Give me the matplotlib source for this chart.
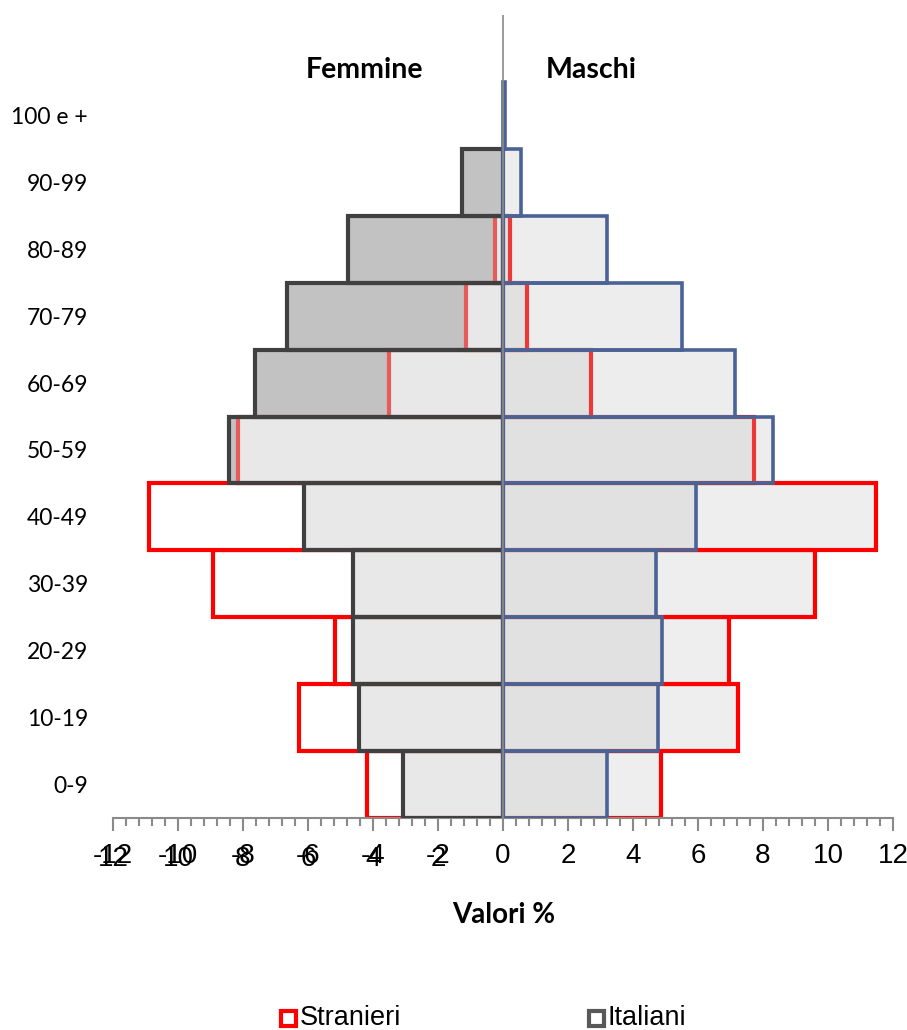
import numpy as np
import matplotlib
matplotlib.use("Agg")
import matplotlib.pyplot as plt
from matplotlib.patches import Rectangle
from matplotlib.ticker import MultipleLocator
import matplotlib.transforms as mtransforms

# Age groups, bottom to top
age_groups = ['0-9', '10-19', '20-29', '30-39', '40-49', '50-59',
              '60-69', '70-79', '80-89', '90-99', '100 e +']

# Share of population (%) per age group
f_italiani = [3.07, 4.43, 4.62, 4.62, 6.12, 8.43, 7.63, 6.64, 4.77, 1.27, 0.0]
f_stranieri = [4.19, 6.28, 5.17, 8.92, 10.9, 8.15, 3.5, 1.15, 0.25, 0.0, 0.0]
m_italiani = [3.2, 4.77, 4.9, 4.7, 5.95, 8.3, 7.15, 5.5, 3.2, 0.55, 0.05]
m_stranieri = [4.87, 7.23, 6.95, 9.6, 11.48, 7.73, 2.7, 0.73, 0.2, 0.0, 0.0]

x_ticks = list(range(-12, 13, 2))
x_tick_labels = ['-12', '-10', '-8', '-6', '-4', '-2', '0', '2', '4', '6', '8', '10', '12']
series_names = ['Stranieri', 'Italiani']

plt.rcParams['font.family'] = ['Lato', 'DejaVu Sans']

W, H = 907, 1030
fig = plt.figure(figsize=(W / 100, H / 100), dpi=100)
ax = fig.add_axes([113 / W, (H - 818) / H, 780 / W, (818 - 15) / H])

y = np.arange(len(age_groups))


def widths(vals, lw):
    return [lw if v > 0 else 0 for v in vals]


# Females (left side, negative values)
neg_fi = [-v for v in f_italiani]
neg_fs = [-v for v in f_stranieri]
ax.barh(y, neg_fi, height=1.0, color='#bababa', linewidth=0, zorder=1)
ax.barh(y, neg_fs, height=1.0, facecolor='white', edgecolor='#ff0000',
        linewidth=widths(f_stranieri, 3.0), zorder=2)
ax.barh(y, neg_fi, height=1.0, facecolor=(0.80, 0.80, 0.80, 0.45),
        edgecolor='#404040', linewidth=widths(f_italiani, 3.0), zorder=3)

# Males (right side)
ax.barh(y, m_stranieri, height=1.0, facecolor='#eeeeee', edgecolor='#ff0000',
        linewidth=widths(m_stranieri, 3.0), zorder=2)
ax.barh(y, m_italiani, height=1.0, facecolor=(0.77, 0.77, 0.77, 0.29),
        edgecolor='#4a6294', linewidth=widths(m_italiani, 2.6), zorder=3)

ax.axvline(0, color='#8a8a8a', linewidth=1.2, zorder=6)

ax.set_xlim(-12, 12)
ax.set_ylim(-0.5, 11.5)

for side in ('left', 'right', 'top'):
    ax.spines[side].set_visible(False)
ax.spines['bottom'].set_color('#8a8a8a')
ax.spines['bottom'].set_linewidth(1.5)

tick_len, tick_pad, tick_size = 9, 9, 20
ax.set_xticks(x_ticks)
ax.set_xticklabels(x_tick_labels)
ax.xaxis.set_minor_locator(MultipleLocator(0.4))
tick_font = ['Liberation Sans Narrow', 'Liberation Sans', 'DejaVu Sans']
ax.tick_params(axis='x', which='major', direction='out', length=tick_len, width=1.5,
               color='#8a8a8a', pad=tick_pad, labelsize=tick_size)
ax.tick_params(axis='x', which='minor', direction='out', length=6, width=1.5,
               color='#8a8a8a')
for lab in ax.get_xticklabels():
    lab.set_fontfamily(tick_font)

# Second copy of the negative labels without the minus sign, a little lower
shift = mtransforms.ScaledTranslation(0, -(tick_len + tick_pad) / 72 - 3 / 100,
                                      fig.dpi_scale_trans)
label_tr = mtransforms.blended_transform_factory(ax.transData, ax.transAxes) + shift
for xt, lab in zip(x_ticks, x_tick_labels):
    if xt < 0:
        ax.text(xt, 0, lab.lstrip('-'), transform=label_tr, ha='center', va='top',
                fontsize=tick_size, family=tick_font)

ax.set_yticks(y)
ax.set_yticklabels(age_groups, fontsize=16.5)
ax.tick_params(axis='y', length=0, pad=18)

fig.text(365 / W, 1 - 70 / H, 'Femmine', ha='center', va='center',
         fontsize=20.5, fontweight='bold')
fig.text(591 / W, 1 - 70 / H, 'Maschi', ha='center', va='center',
         fontsize=20.5, fontweight='bold')
fig.text(504 / W, 1 - 915 / H, 'Valori %', ha='center', va='center',
         fontsize=20, fontweight='bold')

# Legend
legend_font = ['Liberation Sans', 'DejaVu Sans']
for (x0, color, name) in [(281, '#ff0000', series_names[0]), (589, '#595959', series_names[1])]:
    fig.add_artist(Rectangle((x0 / W, 1 - 1026 / H), 15 / W, 15 / H,
                             transform=fig.transFigure, facecolor='white',
                             edgecolor=color, linewidth=3.0))
    fig.text((x0 + 19) / W, 1 - 1018 / H, name, ha='left', va='center',
             fontsize=19.5, family=legend_font)

fig.savefig('out.png', dpi=100)
